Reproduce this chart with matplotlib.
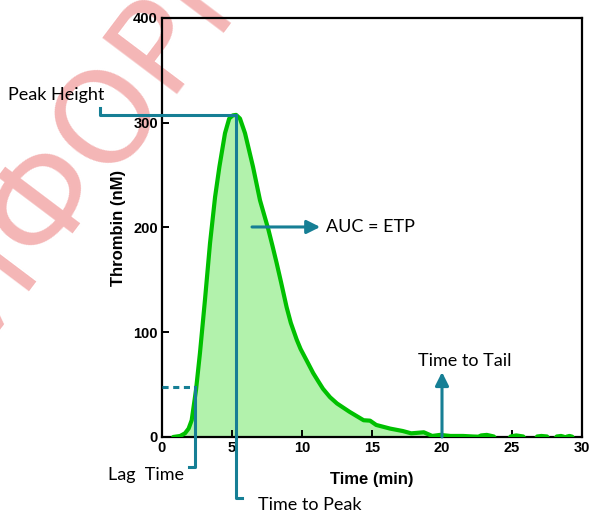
import numpy as np
import matplotlib.pyplot as plt

# thrombin generation curve
time = [0.8, 1.3, 1.64, 1.9, 2.12, 2.43, 2.71, 3.07, 3.43, 3.79, 4.1, 4.5, 4.8, 5.05, 5.29,
        5.57, 5.93, 6.5, 7.0, 7.3, 7.6, 7.9, 8.19, 8.5, 8.9, 9.2, 9.62, 9.9, 10.45, 10.8,
        11.17, 11.5, 12.0, 12.5, 13.4, 14.4,
        14.86, 15.3, 16.3, 17.2, 17.8, 18.7, 19.3, 19.86, 20.6, 21.5, 22.2, 22.6, 22.8,
        23.2, 23.7, 24.0, 24.6, 24.9, 25.3, 25.8, 26.1, 26.5, 26.8, 27.1, 27.5, 27.8,
        28.2, 28.5, 28.7, 28.8, 28.9, 29.1, 29.3, 29.5]
thrombin = [0, 1, 3.5, 8, 16, 45, 80, 131, 185, 229, 258, 290, 304, 307, 307.5,
            304, 290, 258, 226, 212, 198, 182, 166, 148, 124, 109, 93, 84, 70, 61,
            53, 46, 38, 32, 24, 16,
            15.6, 11.5, 8, 5.7, 3.5, 4.5, 1, 2, 1, 1, 0.5, 0.3, 1.5,
            2, 0.5, -6, -6, 0.5, 1.5, 0.5, -6, -6, 0.5, 1, 0.5, -6,
            0.5, 1, 0.3, -4, 0.3, 1, 0.3, -6]

xticks = [0, 5, 10, 15, 20, 25, 30]
yticks = [0, 100, 200, 300, 400]

lag_time = 2.38
lag_level = 47.7
peak_time = 5.29
peak_height = 307.4
tail_time = 20

teal = '#167f95'
green = '#00c000'
ann_font = 'Lato'
ann_size = 13

fig = plt.figure(figsize=(5.92, 5.14), dpi=100)
ax = fig.add_axes([162/592, 1-437/514, 420/592, 419/514])
ax.patch.set_alpha(0)

# watermark
fig.text(102/592, 1-120/514, 'ИФОРМ', rotation=53, ha='center', va='center',
         rotation_mode='anchor', fontsize=92, color='#f4b6b6', zorder=-5)

t = np.array(time)
v = np.array(thrombin)
ax.fill_between(t, 0, np.maximum(v, 0), color='#b2f2ac', lw=0, zorder=1)
ax.plot(t, v, color=green, lw=3, zorder=3, solid_capstyle='round', solid_joinstyle='round')

ax.set_xlim(0, 30)
ax.set_ylim(0, 400)
ax.set_xticks(xticks)
ax.set_yticks(yticks)
for s in ax.spines.values():
    s.set_linewidth(1.6)
ax.tick_params(direction='in', length=5, width=1.4, pad=3)
for lab in ax.get_xticklabels() + ax.get_yticklabels():
    lab.set_fontfamily('Liberation Sans')
    lab.set_fontweight('bold')
    lab.set_fontsize(10.5)
ax.set_xlabel('Time (min)', fontfamily='Liberation Sans', fontweight='bold', fontsize=12, labelpad=12)
ax.set_ylabel('Thrombin (nM)', fontfamily='Liberation Sans', fontweight='bold', fontsize=12, labelpad=5)

lw = 2.2
# peak height
ax.plot([-4.43, -4.43, peak_time], [314, peak_height, peak_height], color=teal, lw=lw, clip_on=False, zorder=4)
ax.text(-11, 326.5, 'Peak Height', fontfamily=ann_font, fontsize=ann_size, va='center', ha='left')
# time to peak
ax.plot([peak_time, peak_time, 5.71], [peak_height, -58.2, -58.2], color=teal, lw=lw, clip_on=False, zorder=4)
ax.text(6.86, -65, 'Time to Peak', fontfamily=ann_font, fontsize=ann_size, va='center', ha='left')
# lag time
ax.plot([0, lag_time], [lag_level, lag_level], color=teal, lw=lw, ls=(0, (2, 1.5)), zorder=4)
ax.plot([lag_time, lag_time, 1.93], [lag_level, -28.6, -28.6], color=teal, lw=lw, clip_on=False, zorder=4)
ax.text(1.57, -36.3, 'Lag  Time', fontfamily=ann_font, fontsize=ann_size, va='center', ha='right')
# AUC
ax.annotate('', xy=(11.3, 200.5), xytext=(6.43, 200.5),
            arrowprops=dict(arrowstyle='-|>', color=teal, lw=lw, mutation_scale=20, shrinkA=0, shrinkB=0), zorder=4)
ax.text(11.7, 200, 'AUC = ETP', fontfamily=ann_font, fontsize=ann_size, va='center', ha='left')
# time to tail
ax.annotate('', xy=(tail_time, 62), xytext=(tail_time, 0),
            arrowprops=dict(arrowstyle='-|>', color=teal, lw=lw, mutation_scale=20, shrinkA=0, shrinkB=0), zorder=4)
ax.text(18.3, 72.5, 'Time to Tail', fontfamily=ann_font, fontsize=ann_size, va='center', ha='left')

fig.savefig('out.png', dpi=100)
